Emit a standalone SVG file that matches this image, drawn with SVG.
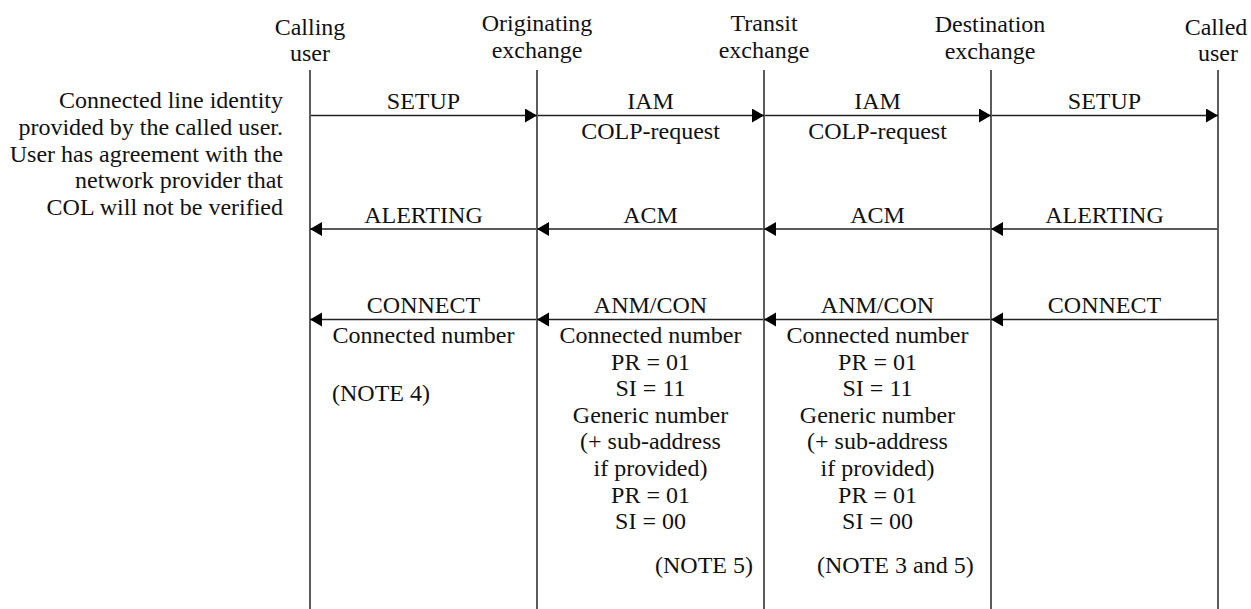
<svg xmlns="http://www.w3.org/2000/svg" width="1251" height="609" viewBox="0 0 1251 609">
<style>
text{font-family:"Liberation Serif","Times New Roman",serif;font-size:24px;fill:#111}
.c{text-anchor:middle}
.r{text-anchor:end}
.life{stroke:#333;stroke-width:1.6;fill:none}
.msg{stroke:#222;stroke-width:1.6;fill:none;marker-end:url(#ah)}
</style>
<defs>
<marker id="ah" markerUnits="userSpaceOnUse" markerWidth="14" markerHeight="16" refX="12" refY="7" orient="auto">
<path d="M0,0 L12,7 L0,14 Z" fill="#000"/>
</marker>
</defs>
<rect width="1251" height="609" fill="#fff"/>
<g id="note-left">
<text class="r" x="283" y="108">Connected line identity</text>
<text class="r" x="283" y="135">provided by the called user.</text>
<text class="r" x="283" y="162">User has agreement with the</text>
<text class="r" x="283" y="188">network provider that</text>
<text class="r" x="283" y="215">COL will not be verified</text>
</g>
<g id="calling-user">
<text class="c" x="310" y="35">Calling</text>
<text class="c" x="310" y="61">user</text>
<line class="life" x1="310" y1="70" x2="310" y2="609"/>
</g>
<g id="originating-exchange">
<text class="c" x="537" y="31">Originating</text>
<text class="c" x="537" y="58">exchange</text>
<line class="life" x1="537" y1="70" x2="537" y2="609"/>
</g>
<g id="transit-exchange">
<text class="c" x="764" y="31">Transit</text>
<text class="c" x="764" y="58">exchange</text>
<line class="life" x1="764" y1="70" x2="764" y2="609"/>
</g>
<g id="destination-exchange">
<text class="c" x="990" y="32">Destination</text>
<text class="c" x="990" y="59">exchange</text>
<line class="life" x1="991" y1="70" x2="991" y2="609"/>
</g>
<g id="called-user">
<text class="c" x="1216" y="35">Called</text>
<text class="c" x="1218" y="61">user</text>
<line class="life" x1="1218" y1="70" x2="1218" y2="609"/>
</g>
<g id="connectors">
<line class="msg" x1="311" y1="115.5" x2="537" y2="115.5"/>
<line class="msg" x1="538" y1="115.5" x2="764" y2="115.5"/>
<line class="msg" x1="765" y1="115.5" x2="991" y2="115.5"/>
<line class="msg" x1="992" y1="115.5" x2="1218" y2="115.5"/>
<line class="msg" x1="1217" y1="229" x2="991" y2="229"/>
<line class="msg" x1="990" y1="229" x2="764" y2="229"/>
<line class="msg" x1="763" y1="229" x2="537" y2="229"/>
<line class="msg" x1="536" y1="229" x2="310" y2="229"/>
<line class="msg" x1="1217" y1="319.5" x2="991" y2="319.5"/>
<line class="msg" x1="990" y1="319.5" x2="764" y2="319.5"/>
<line class="msg" x1="763" y1="319.5" x2="537" y2="319.5"/>
<line class="msg" x1="536" y1="319.5" x2="310" y2="319.5"/>
</g>
<g id="labels">
<text class="c" x="423.5" y="109">SETUP</text>
<text class="c" x="650.5" y="109">IAM</text>
<text class="c" x="650.5" y="138.5">COLP-request</text>
<text class="c" x="877.5" y="109">IAM</text>
<text class="c" x="877.5" y="138.5">COLP-request</text>
<text class="c" x="1104.5" y="109">SETUP</text>
<text class="c" x="423.5" y="222.5">ALERTING</text>
<text class="c" x="650.5" y="222.5">ACM</text>
<text class="c" x="877.5" y="222.5">ACM</text>
<text class="c" x="1104.5" y="222.5">ALERTING</text>
<text class="c" x="423.5" y="313">CONNECT</text>
<text class="c" x="650.5" y="313">ANM/CON</text>
<text class="c" x="877.5" y="313">ANM/CON</text>
<text class="c" x="1104.5" y="313">CONNECT</text>
<text class="c" x="423.5" y="343">Connected number</text>
<text x="332" y="401">(NOTE 4)</text>
</g>
<g id="anm-params-originating">
<text class="c" x="650.5" y="343">Connected number</text>
<text class="c" x="650.5" y="369.6">PR = 01</text>
<text class="c" x="650.5" y="396.2">SI = 11</text>
<text class="c" x="650.5" y="422.8">Generic number</text>
<text class="c" x="650.5" y="449.4">(+ sub-address</text>
<text class="c" x="650.5" y="476">if provided)</text>
<text class="c" x="650.5" y="502.6">PR = 01</text>
<text class="c" x="650.5" y="529.2">SI = 00</text>
<text x="655" y="573">(NOTE 5)</text>
</g>
<g id="anm-params-transit">
<text class="c" x="877.5" y="343">Connected number</text>
<text class="c" x="877.5" y="369.6">PR = 01</text>
<text class="c" x="877.5" y="396.2">SI = 11</text>
<text class="c" x="877.5" y="422.8">Generic number</text>
<text class="c" x="877.5" y="449.4">(+ sub-address</text>
<text class="c" x="877.5" y="476">if provided)</text>
<text class="c" x="877.5" y="502.6">PR = 01</text>
<text class="c" x="877.5" y="529.2">SI = 00</text>
<text x="817" y="573">(NOTE 3 and 5)</text>
</g>
</svg>
